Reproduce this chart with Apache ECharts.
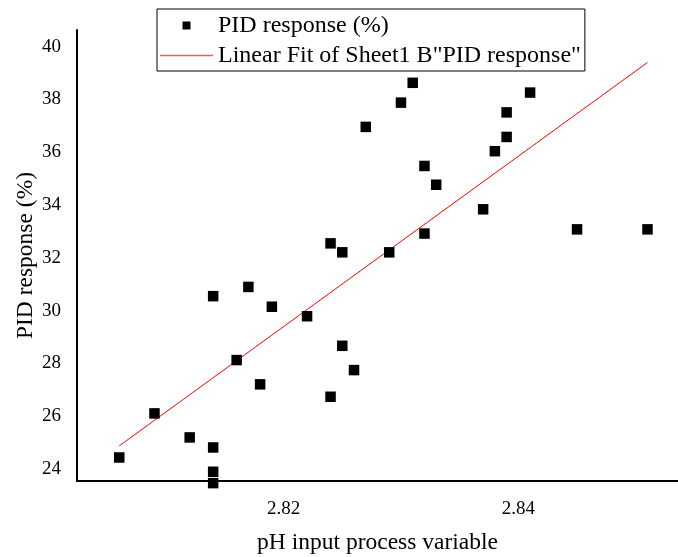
<!DOCTYPE html>
<html>
<head>
<meta charset="utf-8">
<script src="https://cdn.jsdelivr.net/npm/echarts@6/dist/echarts.min.js"></script>
<style>html,body{margin:0;padding:0;background:#fff}#c{width:678px;height:557px}</style>
</head>
<body>
<div id="c"></div>
<script>
var phValues = [2.806, 2.809, 2.812, 2.814, 2.814, 2.814, 2.814, 2.817, 2.819, 2.816, 2.818, 2.822, 2.824, 2.825, 2.829, 2.832, 2.825, 2.826, 2.824, 2.831, 2.830, 2.827, 2.832, 2.833, 2.837, 2.841, 2.839, 2.839, 2.838, 2.845, 2.851];
var pidValues = [24.44, 26.11, 25.20, 24.82, 23.90, 23.47, 30.55, 30.90, 30.15, 28.13, 27.21, 29.79, 32.55, 32.21, 32.21, 32.92, 28.67, 27.75, 26.74, 38.63, 37.88, 36.96, 35.48, 34.77, 33.84, 38.26, 37.51, 36.58, 36.04, 33.08, 33.08];
var fitX = [2.806, 2.851];
var fitY = [24.88, 39.40];
var xTicks = [2.82, 2.84];
var yTicks = [24, 26, 28, 30, 32, 34, 36, 38, 40];
var seriesNames = ['PID response (%)', 'Linear Fit of Sheet1 B"PID response"'];
var xTitle = 'pH input process variable';
var yTitle = 'PID response (%)';

var FONT = 'Liberation Serif';
var scatterData = phValues.map(function (x, i) { return [x, pidValues[i]]; });
var fitData = fitX.map(function (x, i) { return [x, fitY[i]]; });

var chart = echarts.init(document.getElementById('c'), null, {renderer: 'canvas'});
chart.setOption({
  animation: false,
  backgroundColor: '#fff',
  grid: {left: 77, right: 0, top: 30, bottom: 76, containLabel: false, outerBoundsMode: 'none'},
  legend: {
    orient: 'vertical',
    left: 157,
    top: 9,
    padding: [4, 4, 3, 3],
    borderColor: '#000',
    borderWidth: 1,
    itemWidth: 53,
    itemHeight: 8,
    itemGap: 5,
    selectedMode: false,
    symbolKeepAspect: true,
    textStyle: {fontFamily: FONT, fontSize: 24, color: '#000', lineHeight: 25},
    data: [
      {name: seriesNames[0], icon: 'path://M0,0h10v10h-10z', itemStyle: {color: '#000', opacity: 1}},
      {name: seriesNames[1], icon: 'path://M0,0h53v1.3h-53z', itemStyle: {color: '#ff5555', opacity: 1}}
    ]
  },
  xAxis: {
    type: 'value',
    min: 2.8024,
    max: 2.8536,
    name: xTitle,
    nameLocation: 'middle',
    nameGap: 50,
    nameMoveOverlap: false,
    nameTextStyle: {fontFamily: FONT, fontSize: 23.5, color: '#000'},
    axisLine: {show: true, onZero: false, lineStyle: {color: '#000', width: 2}},
    axisTick: {show: false},
    splitLine: {show: false},
    axisLabel: {customValues: xTicks, fontFamily: FONT, fontSize: 19, color: '#000', margin: 19,
      formatter: function (v) { return v.toFixed(2); }}
  },
  yAxis: {
    type: 'value',
    min: 23.55,
    max: 40.63,
    name: yTitle,
    nameLocation: 'middle',
    nameGap: 39,
    nameMoveOverlap: false,
    nameTextStyle: {fontFamily: FONT, fontSize: 23.5, color: '#000'},
    axisLine: {show: true, onZero: false, lineStyle: {color: '#000', width: 2}},
    axisTick: {show: false},
    splitLine: {show: false},
    axisLabel: {customValues: yTicks, fontFamily: FONT, fontSize: 19, color: '#000', margin: 16,
      formatter: function (v) { return String(Math.round(v)); }}
  },
  series: [
    {
      name: seriesNames[0],
      type: 'scatter',
      symbol: 'rect',
      symbolSize: 10.5,
      clip: false,
      itemStyle: {color: '#000', opacity: 1},
      data: scatterData,
      z: 3
    },
    {
      name: seriesNames[1],
      type: 'line',
      symbol: 'none',
      lineStyle: {color: '#ff0000', width: 1},
      itemStyle: {color: '#ff0000'},
      data: fitData,
      z: 2
    }
  ]
});
</script>
</body>
</html>
